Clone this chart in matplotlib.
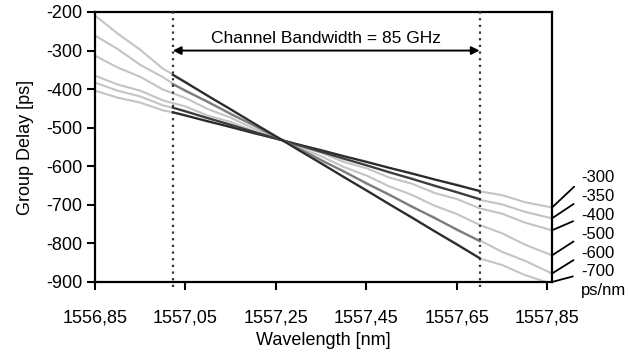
import matplotlib
matplotlib.use("Agg")
import matplotlib.pyplot as plt

plt.rcParams['font.family'] = ['Liberation Sans', 'DejaVu Sans']
plt.rcParams['axes.unicode_minus'] = False

# wavelength grid [nm]
wl = [1556.85, 1556.90, 1556.95, 1557.00, 1557.05, 1557.10, 1557.15, 1557.20,
      1557.25, 1557.30, 1557.35, 1557.40, 1557.45, 1557.50, 1557.55, 1557.60,
      1557.65, 1557.70, 1557.75, 1557.80, 1557.86]

# measured group delay curves [ps]
gd_300 = [-404, -422, -435, -455, -467, -485, -497, -515, -527, -545, -557,
          -575, -587, -605, -617, -635, -647, -665, -675, -693, -707]
gd_350 = [-383, -404, -419, -442, -456, -477, -491, -512, -526, -547, -561,
          -582, -596, -617, -631, -652, -666, -687, -699, -718, -735]
gd_400 = [-365, -388, -404, -429, -445, -469, -485, -509, -525, -549, -565,
          -589, -605, -629, -645, -669, -685, -709, -723, -746, -766]
gd_500 = [-313, -344, -368, -401, -423, -452, -474, -502, -524, -552, -574,
          -602, -624, -652, -674, -702, -724, -752, -774, -803, -831]
gd_600 = [-261, -296, -337, -369, -406, -432, -466, -492, -526, -552, -586,
          -612, -646, -672, -706, -732, -766, -792, -822, -845, -878]
gd_700 = [-209, -256, -298, -347, -380, -419, -451, -489, -521, -559, -591,
          -629, -661, -699, -731, -769, -801, -839, -856, -882, -905]

curves = [gd_300, gd_350, gd_400, gd_500, gd_600, gd_700]
curve_labels = ['-300', '-350', '-400', '-500', '-600', '-700']

# channel band edges and linear fits inside the band
band = [1557.022, 1557.70]
fit_start = [-460, -448, -387, -363]
fit_end = [-664, -685, -794, -838]
fit_colors = ['#2a2a2a', '#3c3c3c', '#7c7c7c', '#2a2a2a']

xticks = [1556.85, 1557.05, 1557.25, 1557.45, 1557.65, 1557.85]
xtick_labels = ['1556,85', '1557,05', '1557,25', '1557,45', '1557,65', '1557,85']
yticks = [-900, -800, -700, -600, -500, -400, -300, -200]

fig = plt.figure(figsize=(6.3, 3.6), dpi=100)
ax = fig.add_axes([0.1508, 0.2167, 0.7254, 0.75])

for gd in curves:
    ax.plot(wl, gd, color='#c4c4c4', lw=1.5, zorder=2)

for s, e, c in zip(fit_start, fit_end, fit_colors):
    ax.plot(band, [s, e], color=c, lw=1.6, zorder=3)

for b in band:
    ax.axvline(b, ymin=-0.02, ymax=1.02, color='#333333', ls=(0, (1, 2)),
               lw=1.6, clip_on=False, zorder=4)

ax.annotate('', xy=(band[0], -300), xytext=(band[1], -300),
            arrowprops=dict(arrowstyle='<|-|>', color='black', lw=1.4,
                            mutation_scale=12, shrinkA=0, shrinkB=0))
ax.text(sum(band) / 2, -268, 'Channel Bandwidth = 85 GHz', ha='center',
        va='center', fontsize=12.5)

ax.set_xlim(1556.85, 1557.86)
ax.set_ylim(-900, -200)
ax.set_xticks(xticks)
ax.set_xticklabels(xtick_labels)
ax.set_yticks(yticks)
ax.tick_params(direction='out', length=6, width=1.5, labelsize=13, pad=3)
ax.tick_params(axis='x', pad=14)
for sp in ax.spines.values():
    sp.set_linewidth(1.6)

ax.set_xlabel('Wavelength [nm]', fontsize=13, labelpad=4)
ax.set_ylabel('Group Delay [ps]', fontsize=13, labelpad=9)

# labels with leader lines on the right
for i, (gd, lbl) in enumerate(zip(curves, curve_labels)):
    end = max(gd[-1], -900)
    ax.annotate(lbl, xy=(wl[-1], end), xycoords='data',
                xytext=(581, 360 - 178 - i * 18.8), textcoords='figure pixels',
                ha='left', va='center', fontsize=12,
                arrowprops=dict(arrowstyle='-', color='black', lw=1.3,
                                relpos=(0, 0.35), shrinkA=4, shrinkB=0),
                annotation_clip=False)
fig.text(581 / 630, 1 - 290 / 360, 'ps/nm', ha='left', va='center', fontsize=12)

fig.savefig('out.png', dpi=100)
